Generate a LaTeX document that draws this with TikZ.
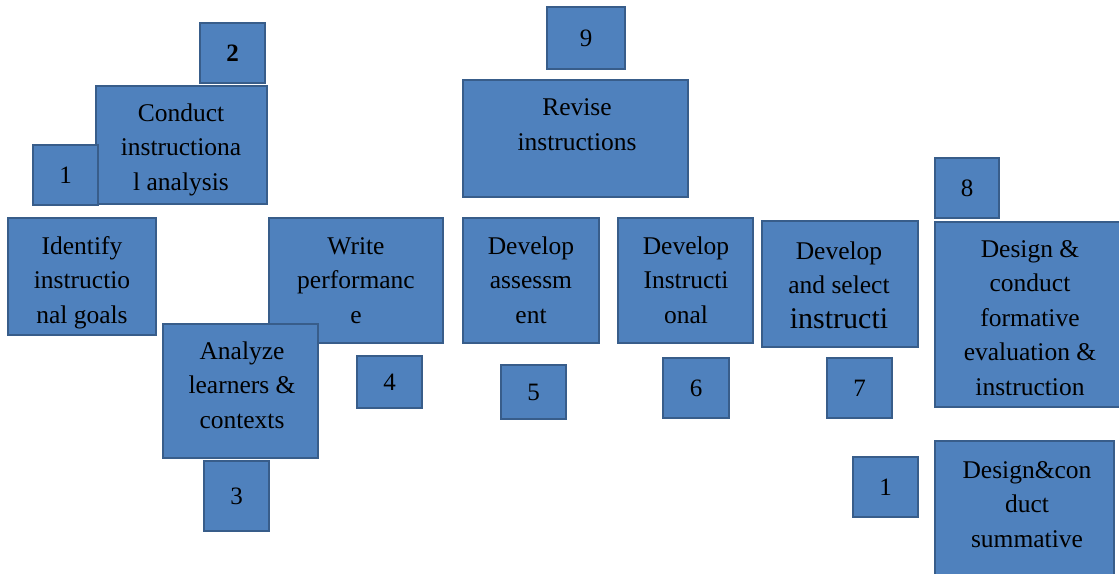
\documentclass[tikz,border=0pt]{standalone}
\usepackage{fontspec}
\setmainfont{Liberation Serif}
\definecolor{boxfill}{HTML}{4F81BD}
\definecolor{boxline}{HTML}{385D8A}

\begin{document}
\begin{tikzpicture}[x=1pt,y=-1pt,
	stepbox/.style={draw=boxline,fill=boxfill,line width=1.2pt,rectangle,inner sep=0pt,outer sep=0pt,anchor=north west},
	numbox/.style={stepbox,anchor=center,font=\fontsize{25}{30}\selectfont},
	steptext/.style={align=center,anchor=base,inner sep=0pt,font=\fontsize{25.5}{34.5}\selectfont}]
	\useasboundingbox (0,0) rectangle (1119,573);
	% left group (text nodes sit on the baseline of their last line)
	\node[stepbox,minimum width=148,minimum height=117] (goal) at (8,218) {};
	\node[steptext] (goaltext) at (82,323) {Identify\\instructio\\nal goals};
	\node[stepbox,minimum width=171,minimum height=118] (conduct) at (96,86) {};
	\node[steptext] (conducttext) at (181,190) {Conduct\\instructiona\\l analysis};
	\node[numbox,minimum width=65,minimum height=60] (n1) at (65.5,175) {1};
	\node[numbox,minimum width=65,minimum height=60] (n2) at (232.5,53) {\textbf{2}};
	\node[stepbox,minimum width=174,minimum height=125] (write) at (269,218) {};
	\node[steptext] (writetext) at (356,323) {Write\\performanc\\e};
	\node[stepbox,minimum width=155,minimum height=134] (analyze) at (163,324) {};
	\node[steptext] (analyzetext) at (242,428) {Analyze\\learners \&\\contexts};
	\node[numbox,minimum width=65,minimum height=70] (n3) at (236.5,496) {3};
	\node[numbox,minimum width=65,minimum height=52] (n4) at (389.5,382) {4};
	% middle group
	\node[numbox,minimum width=78,minimum height=62] (n9) at (586,38) {9};
	\node[stepbox,minimum width=225,minimum height=117] (revise) at (463,80) {};
	\node[steptext] (revisetext) at (577,150) {Revise\\instructions};
	\node[stepbox,minimum width=136,minimum height=125] (assess) at (463,218) {};
	\node[steptext] (assesstext) at (531,323) {Develop\\assessm\\ent};
	\node[stepbox,minimum width=135,minimum height=125] (instr) at (618,218) {};
	\node[steptext] (instrtext) at (686,323) {Develop\\Instructi\\onal};
	\node[numbox,minimum width=65,minimum height=54] (n5) at (533.5,392) {5};
	\node[numbox,minimum width=66,minimum height=60] (n6) at (696,388) {6};
	% right group
	\node[stepbox,minimum width=156,minimum height=126] (select) at (762,221) {};
	\node[steptext] (selecttext) at (839,328) {Develop\\and select\\{\fontsize{30}{36}\selectfont instructi}};
	\node[numbox,minimum width=65,minimum height=60] (n7) at (859.5,388) {7};
	\node[numbox,minimum width=64,minimum height=60] (n8) at (967,188) {8};
	\node[stepbox,minimum width=190,minimum height=185] (formative) at (935,222) {};
	\node[steptext] (formativetext) at (1030,395) {Design \&\\conduct\\formative\\evaluation \&\\instruction};
	\node[numbox,minimum width=65,minimum height=60] (n10) at (885.5,487) {1};
	\node[stepbox,minimum width=179,minimum height=150] (summative) at (935,441) {};
	\node[steptext] (summativetext) at (1027,547) {Design\&con\\duct\\summative};
\end{tikzpicture}
\end{document}
